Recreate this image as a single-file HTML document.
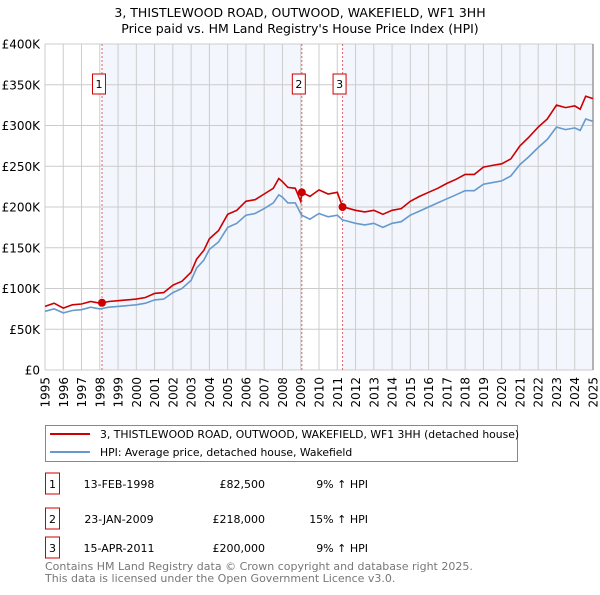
<!DOCTYPE html>
<html><head><meta charset="utf-8"><style>
body{margin:0;background:#fff;}
svg text{font-family:"DejaVu Sans","Liberation Sans",sans-serif;}
</style></head><body>
<svg id="chart" width="600" height="590" viewBox="0 0 600 590" xmlns="http://www.w3.org/2000/svg">
<text x="300" y="17" font-size="12.5" text-anchor="middle">3, THISTLEWOOD ROAD, OUTWOOD, WAKEFIELD, WF1 3HH</text>
<text x="300" y="33" font-size="12.5" text-anchor="middle">Price paid vs. HM Land Registry's House Price Index (HPI)</text>
<g id="plot"></g>
<g>
<rect x="45.5" y="425.5" width="472" height="36" fill="#fff" stroke="#888"/>
<line x1="50" y1="434" x2="90" y2="434" stroke="#cc0000" stroke-width="2"/>
<text x="100" y="438" font-size="10.8">3, THISTLEWOOD ROAD, OUTWOOD, WAKEFIELD, WF1 3HH (detached house)</text>
<line x1="50" y1="452" x2="90" y2="452" stroke="#6699cc" stroke-width="2"/>
<text x="100" y="456" font-size="10.8">HPI: Average price, detached house, Wakefield</text>
</g>
<g id="table"></g>
<text x="45" y="570" font-size="11" fill="#777">Contains HM Land Registry data © Crown copyright and database right 2025.</text>
<text x="45" y="582" font-size="11" fill="#777">This data is licensed under the Open Government Licence v3.0.</text>
</svg>
<script>
const dates=[1995,1995.5,1996,1996.5,1997,1997.5,1998,1998.12,1998.5,1999,2000,2000.5,2001,2001.5,2002,2002.5,2003,2003.3,2003.7,2004,2004.5,2005,2005.5,2006,2006.5,2007,2007.5,2007.8,2008,2008.3,2008.7,2009,2009.06,2009.5,2010,2010.5,2011,2011.29,2011.5,2012,2012.5,2013,2013.5,2014,2014.5,2015,2015.5,2016,2016.5,2017,2017.5,2018,2018.5,2019,2019.5,2020,2020.5,2021,2021.5,2022,2022.5,2023,2023.5,2024,2024.3,2024.6,2025];
const hpiValues=[72,75,70,73,74,77,75,75.5,77,78,80,82,86,87,95,100,110,125,135,148,157,175,180,190,192,198,205,215,212,205,205,192,190,185,192,188,190,184,183,180,178,180,175,180,182,190,195,200,205,210,215,220,220,228,230,232,238,252,262,273,283,298,295,297,294,308,305];
const priceValues=[78,82,76,80,81,84,82,82.5,84,85,87,89,94,95,104,109,120,136,147,161,171,191,196,207,209,216,223,235,231,224,223,207,218,213,221,216,218,200,199,196,194,196,191,196,198,207,213,218,223,229,234,240,240,249,251,253,259,275,286,298,308,325,322,324,320,336,333];
const saleDates=[1998.12,2009.06,2011.29];
const salePrices=[82.5,218,200];
const saleLabels=["1","2","3"];
const saleDateText=["13-FEB-1998","23-JAN-2009","15-APR-2011"];
const salePriceText=["£82,500","£218,000","£200,000"];
const saleHpiText=["9% ↑ HPI","15% ↑ HPI","9% ↑ HPI"];
const yTicks=[0,50,100,150,200,250,300,350,400];
const yTickLabels=["£0","£50K","£100K","£150K","£200K","£250K","£300K","£350K","£400K"];
const xYears=[1995,1996,1997,1998,1999,2000,2001,2002,2003,2004,2005,2006,2007,2008,2009,2010,2011,2012,2013,2014,2015,2016,2017,2018,2019,2020,2021,2022,2023,2024,2025];

const L=45,R=593,T=44,B=370;
const xs=d=>L+(d-1995)/30*(R-L);
const ys=v=>B-v/400*(B-T);
const NS="http://www.w3.org/2000/svg";
const plot=document.getElementById('plot');
function mk(tag,attrs,parent){const e=document.createElementNS(NS,tag);for(const k in attrs)e.setAttribute(k,attrs[k]);(parent||plot).appendChild(e);return e;}

let r=mk('rect',{x:xs(saleDates[0]),y:T,width:xs(saleDates[1])-xs(saleDates[0]),height:B-T,fill:'#f3f6fd'});


r=mk('rect',{x:xs(saleDates[2]),y:T,width:R-xs(saleDates[2]),height:B-T,fill:'#f3f6fd'});



xYears.forEach(y=>{
  const l=mk('line',{x1:xs(y),x2:xs(y),y1:T,y2:B,stroke:'#ccc','stroke-width':1});
  
  
  const t=mk('text',{x:0,y:0,'font-size':12,'text-anchor':'end',transform:`translate(${xs(y)+4.5},377) rotate(-90)`});
  t.textContent=y;
  
  
});
yTicks.forEach((v,i)=>{
  const l=mk('line',{x1:L,x2:R,y1:ys(v),y2:ys(v),stroke:'#ccc','stroke-width':1});
  
  
  const t=mk('text',{x:40,y:ys(v)+4.5,'font-size':12,'text-anchor':'end'});
  t.textContent=yTickLabels[i];
  
  
});
const edge=mk('line',{x1:R,x2:R,y1:T,y2:B,stroke:'#999','stroke-width':1.5});



saleDates.forEach((d,i)=>{
  const l=mk('line',{x1:xs(d),x2:xs(d),y1:T,y2:B,stroke:'#e06666','stroke-width':1,'stroke-dasharray':'2,2'});
  
  
  const bx=mk('rect',{x:xs(d)-9.5,y:74,width:13,height:20,fill:'#fff',stroke:'#cc0000'});
  
  
  const t=mk('text',{x:xs(d)-3,y:88,'font-size':11,'text-anchor':'middle'});
  t.textContent=saleLabels[i];
  
  
});

function path(vals){return vals.map((v,i)=>(i?'L':'M')+xs(dates[i]).toFixed(1)+','+ys(v).toFixed(1)).join('');}
const hp=mk('path',{d:path(hpiValues),fill:'none',stroke:'#6699cc','stroke-width':1.6});


const pp=mk('path',{d:path(priceValues),fill:'none',stroke:'#cc0000','stroke-width':1.6});


saleDates.forEach((d,i)=>{
  const c=mk('circle',{cx:xs(d),cy:ys(salePrices[i]),r:4,fill:'#cc0000'});
  
  
});

const tbl=document.getElementById('table');
const rowY=[484,519,548];
saleLabels.forEach((s,i)=>{
  const y=rowY[i];
  const b=mk('rect',{x:45.5,y:y-11,width:14,height:21,fill:'#fff',stroke:'#cc0000'},tbl);
  
  
  const cells=[[52.5,s,'middle'],[119,saleDateText[i],'middle'],[265,salePriceText[i],'end'],[368,saleHpiText[i],'end']];
  cells.forEach(c=>{
    const t=mk('text',{x:c[0],y:y+4,'font-size':11,'text-anchor':c[2]},tbl);
    t.textContent=c[1];
    
    
  });
});
</script>
</body></html>
